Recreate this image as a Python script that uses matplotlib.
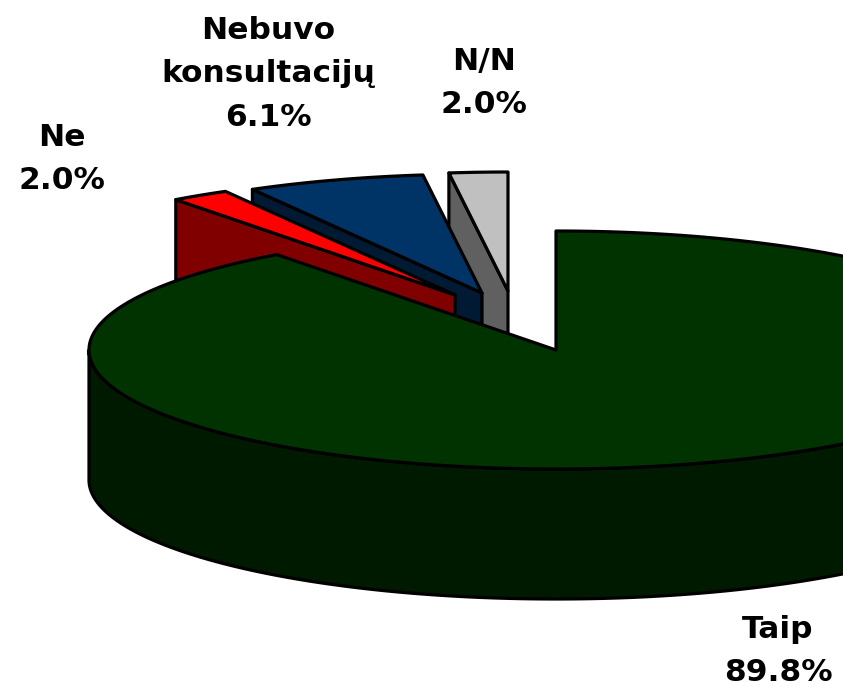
import numpy as np
import matplotlib
matplotlib.use("Agg")
import matplotlib.pyplot as plt
from matplotlib.patches import Polygon

# Data
labels = ["Taip", "Ne", "Nebuvo\nkonsultacijų", "N/N"]
values = [89.8, 2.0, 6.1, 2.0]

# Look of each slice (clockwise from 12 o'clock)
top_colors = ["#003300", "#ff0000", "#003366", "#c0c0c0"]
side_colors = ["#001a00", "#800000", "#001a33", "#606060"]
tip_x = [556, 455, 482, 508]
tip_y = [350, 295, 293, 291]
label_x = [778, 62, 268, 484]
label_y = [651, 159, 74, 83]

rx, ry = 467, 119
depth = 130
line_w = 2.3

fig = plt.figure(figsize=(8.43, 6.87), dpi=100)
ax = fig.add_axes([0, 0, 1, 1])
ax.set_xlim(0, 843)
ax.set_ylim(687, 0)
ax.axis("off")


def rim(cx, cy, a0, a1):
    # points on the ellipse, angles clockwise from the top in degrees
    a = np.radians(np.linspace(a0, a1, 400))
    return np.column_stack([cx + rx * np.sin(a), cy - ry * np.cos(a)])


def shape(pts, color):
    ax.add_patch(Polygon(pts, closed=True, facecolor=color, edgecolor="black",
                         linewidth=line_w, joinstyle="round"))


# start and end angle of every slice; labels are rounded and sum to 99.9,
# so the small slices share what Taip leaves
taip_end = values[0] * 3.6
rest = np.cumsum(values[1:]) / sum(values[1:]) * (360 - taip_end)
ends = np.concatenate([[taip_end], taip_end + rest])
starts = np.concatenate([[0], ends[:-1]])

# back slices first, Taip last so it covers them
for i in [3, 2, 1, 0]:
    cx, cy = tip_x[i], tip_y[i]
    a0, a1 = starts[i], ends[i]
    if i == 0:
        # front wall of the big slice, left extreme round to the right extreme
        edge = rim(cx, cy, 90, 270)
        wall = np.vstack([edge, (edge + [0, depth])[::-1]])
        shape(wall, side_colors[i])
    else:
        # cut face on the left of the exploded slice
        p = rim(cx, cy, a0, a0)[0]
        face = np.array([p, [cx, cy], [cx, cy + depth], p + [0, depth]])
        shape(face, side_colors[i])
    top = np.vstack([[[cx, cy]], rim(cx, cy, a0, a1)])
    shape(top, top_colors[i])

# Labels
for i in range(len(labels)):
    ax.text(label_x[i], label_y[i], f"{labels[i]}\n{values[i]:.1f}%",
            ha="center", va="center", fontsize=22.5, fontweight="bold",
            family="DejaVu Sans", linespacing=1.62, color="black")

fig.savefig("out.png", dpi=100)
